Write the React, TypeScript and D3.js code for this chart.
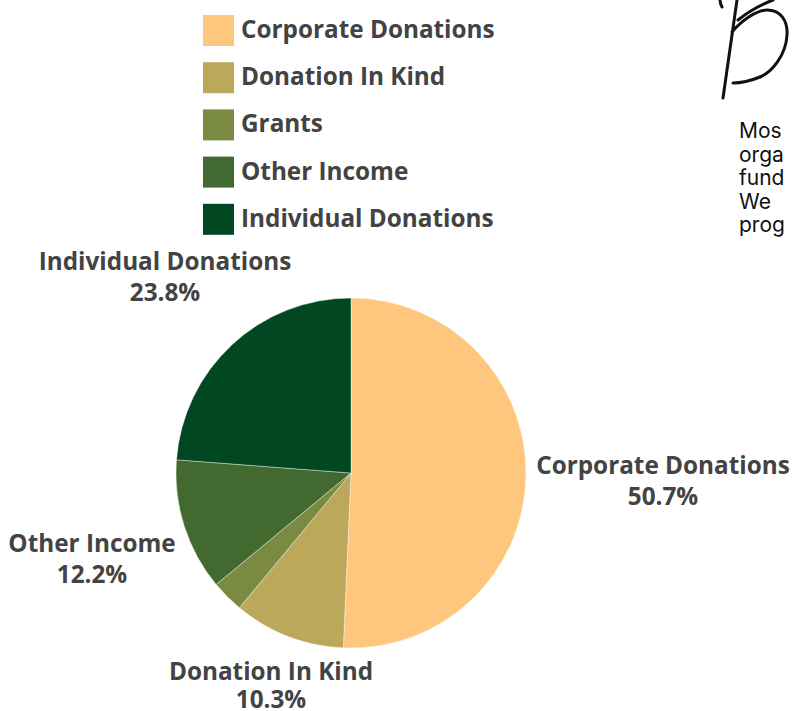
import React from "react";
import * as d3 from "d3";

const categories = ["Corporate Donations", "Donation In Kind", "Grants", "Other Income", "Individual Donations"];
const values = [50.7, 10.3, 3.0, 12.2, 23.8];
const colors = ["#FFC77D", "#BCA85A", "#7A8A40", "#426A30", "#004722"];
const sideText = ["Mos", "orga", "fund", "We", "prog"];

// label anchor (centre x, first-line baseline), only for labelled slices
const labelPos: Record<string, [number, number]> = {
  "Corporate Donations": [663, 474],
  "Donation In Kind": [271, 680],
  "Other Income": [92, 552],
  "Individual Donations": [165, 270],
};

const W = 793;
const H = 711;
const cx = 351;
const cy = 473;
const radius = 175;

export default function App() {
  const data = categories.map((c, i) => ({ name: c, value: values[i], color: colors[i] }));
  const pie = d3.pie<any>().value((d) => d.value).sort(null);
  const arc = d3.arc<any>().innerRadius(0).outerRadius(radius);
  const arcs = pie(data);
  const font = "'Open Sans', sans-serif";

  return (
    <svg width={W} height={H} viewBox={`0 0 ${W} ${H}`} style={{ position: "absolute", left: 0, top: 0, background: "#fff" }}>
      {/* legend */}
      <g>
        {data.map((d, i) => (
          <g key={d.name} transform={`translate(203, ${15 + i * 47.2})`}>
            <rect width={31} height={31} fill={d.color} />
            <text x={38} y={23} fontFamily={font} fontWeight={700} fontSize={24.3} fill="#434343">
              {d.name}
            </text>
          </g>
        ))}
      </g>

      {/* pie */}
      <g transform={`translate(${cx}, ${cy})`}>
        {arcs.map((a) => (
          <path key={a.data.name} d={arc(a) || ""} fill={a.data.color} stroke="#fff" strokeWidth={0.4} />
        ))}
      </g>

      {/* slice labels */}
      {data.filter((d) => labelPos[d.name]).map((d) => {
        const [x, y] = labelPos[d.name];
        return (
          <text key={d.name} x={x} y={y} textAnchor="middle" fontFamily={font} fontWeight={700} fontSize={24.3} fill="#434343">
            <tspan x={x} y={y}>{d.name}</tspan>
            <tspan x={x} y={Math.min(y + 31, 708)}>{d.value.toFixed(1)}%</tspan>
          </text>
        );
      })}

      {/* cut-off text on the right */}
      <g fontFamily="Inter, sans-serif" fontSize={21} fill="#111">
        {sideText.map((t, i) => (
          <text key={t} x={739} y={138 + i * 23.5}>{t}</text>
        ))}
      </g>
      <path
        d="M723,98 C727,70 732,35 737,0 M732,32 C742,20 757,10 767,10 C780,10 788,20 787,35 C786,55 772,72 760,77 C750,81 740,83 733,83 M738,20 C748,12 760,5 773,0 M720,0 C720,3 721,5 722,7"
        fill="none"
        stroke="#111"
        strokeWidth={3}
        strokeLinecap="round"
      />
    </svg>
  );
}
